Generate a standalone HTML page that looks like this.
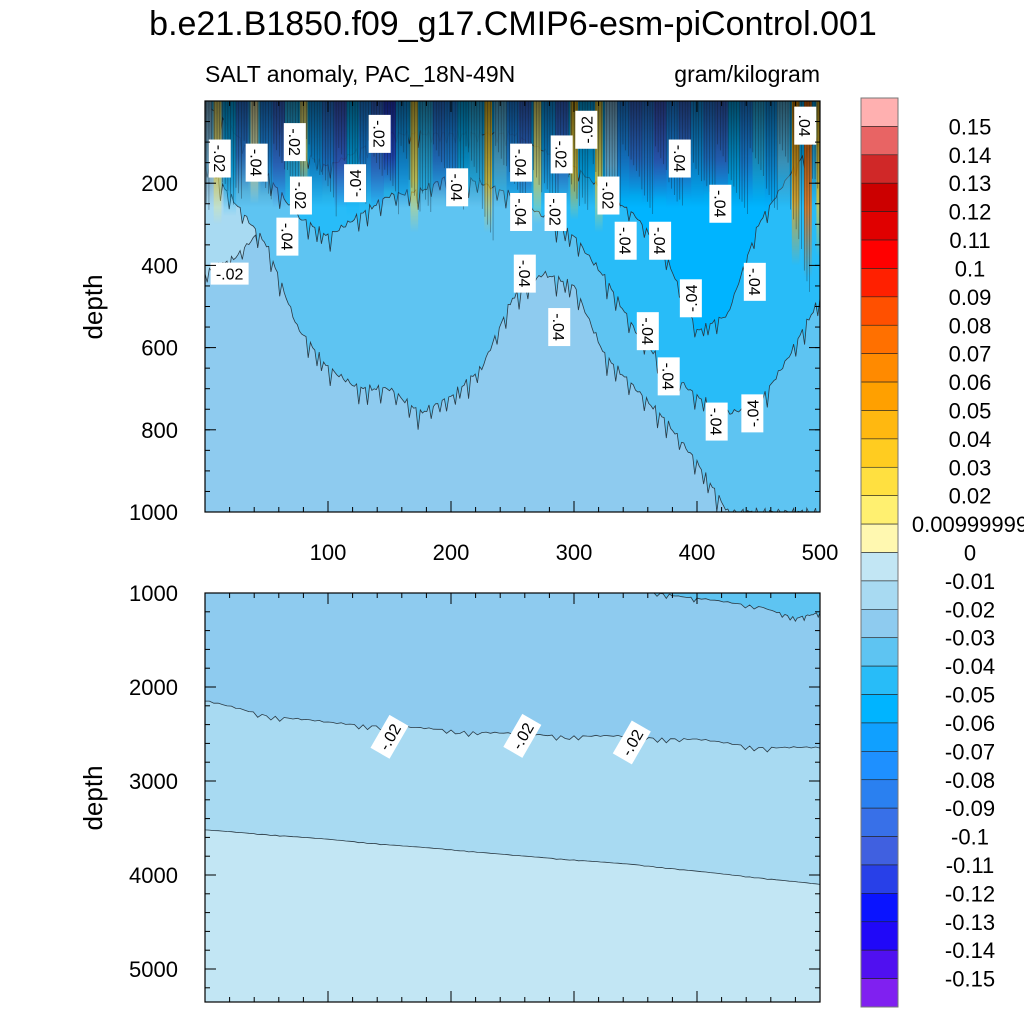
<!DOCTYPE html>
<html><head><meta charset="utf-8"><style>
body{margin:0;background:#fff;width:1024px;height:1024px;overflow:hidden;font-family:"Liberation Sans",sans-serif}
svg text{font-family:"Liberation Sans",sans-serif}
</style></head><body>
<svg id="chart" width="1024" height="1024" xmlns="http://www.w3.org/2000/svg">
<text x="513" y="35" font-size="34" text-anchor="middle">b.e21.B1850.f09_g17.CMIP6-esm-piControl.001</text>
<text x="205" y="82" font-size="23">SALT anomaly, PAC_18N-49N</text>
<text x="820" y="82" font-size="23" text-anchor="end">gram/kilogram</text>
<text transform="translate(102,307) rotate(-90)" font-size="26" text-anchor="middle">depth</text>
<text transform="translate(102,798) rotate(-90)" font-size="26" text-anchor="middle">depth</text>
<g id="top"></g>
<g id="bot"></g>
<g id="cbar"></g>
</svg>
<script>
// ---- data ----
const levels=[0.15,0.14,0.13,0.12,0.11,0.1,0.09,0.08,0.07,0.06,0.05,0.04,0.03,0.02,0.01,0,-0.01,-0.02,-0.03,-0.04,-0.05,-0.06,-0.07,-0.08,-0.09,-0.1,-0.11,-0.12,-0.13,-0.14,-0.15];
const levelLabels=["0.15","0.14","0.13","0.12","0.11","0.1","0.09","0.08","0.07","0.06","0.05","0.04","0.03","0.02","0.00999999","0","-0.01","-0.02","-0.03","-0.04","-0.05","-0.06","-0.07","-0.08","-0.09","-0.1","-0.11","-0.12","-0.13","-0.14","-0.15"];
const colors=["#ffb0b0","#e86464","#d02828","#cc0000","#e00000","#ff0000","#ff2000","#ff5000","#ff7000","#ff8a00","#ffa000","#ffb810","#ffcc20","#ffe040","#fff070","#fff8b0","#c2e6f4","#a8daf2","#8ecbef","#5ec4f2","#28bcf8","#00b4ff","#10a0ff","#1e90ff","#2a80f0","#3870e8","#4060e0","#2840e8","#0a14ff","#2008f8","#5010f0","#8020f0"];
const topX=[0,25,50,75,100,125,150,175,200,225,250,275,300,325,350,375,400,425,450,475,500];
const top02=[420,380,300,250,200,150,150,150,150,300,450,300,200,200,250,300,250,250,250,300,330];
const top03=[150,250,350,550,650,700,700,760,720,650,480,420,450,620,700,780,880,1000,1000,1000,1000];
const top04=[0,80,180,280,330,280,230,220,180,200,230,280,330,430,560,650,720,760,740,620,480];
const top05=[0,0,0,120,160,120,80,80,80,80,80,120,160,220,280,380,560,520,300,180,80];
const surfX=[0,10,20,30,40,50,60,70,80,90,100,110,120,130,140,150,160,170,180,190,200,210,220,230,240,250,260,270,280,290,300,310,320,330,340,350,360,370,380,390,400,410,420,430,440,450,460,470,480,490,500];
const surfVal=[-0.03,0.01,-0.06,-0.09,0.00,-0.08,-0.1,-0.05,0.01,-0.07,-0.09,-0.11,-0.06,-0.08,-0.1,-0.12,-0.07,0.02,-0.05,-0.09,-0.08,-0.06,-0.05,0.03,-0.04,-0.08,-0.1,0.01,-0.07,-0.1,0.03,-0.06,0.02,-0.03,-0.08,-0.1,-0.09,-0.11,-0.08,-0.1,-0.07,-0.09,-0.1,-0.06,-0.08,-0.05,-0.07,-0.04,0.05,0.07,0.03];
const surfDepth=[250,300,280,220,250,230,260,240,220,250,230,260,280,240,260,220,260,320,250,240,260,240,250,320,260,240,250,300,250,240,290,250,320,260,240,230,250,240,260,240,250,230,240,260,250,240,260,250,400,430,380];
const botX=[0,50,100,150,200,250,300,350,400,450,500];
const bot02=[2150,2300,2380,2420,2460,2500,2520,2530,2560,2640,2650];
const bot01=[3520,3570,3620,3680,3730,3790,3840,3890,3960,4030,4100];
const deepX=[365,400,450,480,500];
const deepD=[1000,1060,1140,1270,1210];
const topTicksY=[200,400,600,800,1000];
const botTicksY=[1000,2000,3000,4000,5000];
const ticksX=[100,200,300,400,500];
const topLabels=[[12,140,"-.02",90],[42,150,"-.04",90],[73,100,"-.02",90],[78,230,"-.02",90],[67,330,"-.04",90],[142,80,"-.02",90],[122,200,"-.04",-90],[205,210,"-.04",90],[257,150,"-.04",90],[257,270,"-.04",90],[260,420,"-.04",90],[290,130,"-.02",90],[285,270,"-.02",90],[310,70,"-.02",-90],[328,230,"-.02",90],[342,340,"-.04",90],[370,340,"-.04",90],[386,140,"-.04",90],[419,250,"-.04",90],[288,550,"-.04",90],[360,560,"-.04",90],[377,670,"-.04",90],[395,480,"-.04",-90],[416,780,"-.04",90],[447,440,"-.04",90],[445,760,"-.04",-90],[488,60,".04",90],[20,420,"-.02",0]];
const botLabels=[[150,2530,"-.02",-60],[258,2520,"-.02",-60],[347,2590,"-.02",-60]];
// ---- helpers ----
const NS="http://www.w3.org/2000/svg";
function mk(t,a,p){const e=document.createElementNS(NS,t);for(const k in a)e.setAttribute(k,a[k]);p.appendChild(e);return e;}
const L=205,R=820;
const sx=v=>L+v*(R-L)/500;
const T1=101,B1=512; const sy1=d=>T1+d*(B1-T1)/1000;
const T2=593,B2=1002; const sy2=d=>T2+(d-1000)*94/1000;
function colorOf(v){for(let i=0;i<levels.length;i++){if(v>=levels[i])return colors[i];}return colors[colors.length-1];}
function jag(xs,ds,sy,base,amp){let pts=[];for(let i=0;i<xs.length-1;i++){const n=14;for(let k=0;k<n;k++){const t=k/n;const x=xs[i]+(xs[i+1]-xs[i])*t;const d=ds[i]+(ds[i+1]-ds[i])*t;const s=Math.sin(x*1.37)*Math.sin(x*0.31+1.1);const wig=(s>0.5?s*2.5:s*0.6)*amp*(d>0?1:0);pts.push([sx(x),sy(Math.max(base,d+wig))]);}}pts.push([sx(xs[xs.length-1]),sy(ds[ds.length-1])]);return pts;}
function layer(g,xs,ds,sy,top,fill,name,amp){const pts=jag(xs,ds,sy,top,amp);let d=`M${sx(xs[0])},${sy(top)} `+pts.map(p=>`L${p[0].toFixed(1)},${p[1].toFixed(1)}`).join(" ")+` L${sx(xs[xs.length-1])},${sy(top)} Z`;const e=mk("path",{d:d,fill:fill,stroke:"#2a3a44","stroke-width":0.8},g);return e;}
// ---- top panel ----
const tg=document.getElementById('top');
const cp=mk("clipPath",{id:"c1"},tg);mk("rect",{x:L,y:T1,width:R-L,height:B1-T1},cp);
const tin=mk("g",{"clip-path":"url(#c1)"},tg);
let bg=mk("rect",{x:L,y:T1,width:R-L,height:B1-T1,fill:"#8ecbef"},tin);

layer(tin,topX,top02,sy1,0,"#a8daf2","band-minus-0.02",15);
layer(tin,topX,top03,sy1,0,"#5ec4f2","band-minus-0.04",18);
layer(tin,topX,top04,sy1,0,"#28bcf8","band-minus-0.05",18);
layer(tin,topX,top05,sy1,0,"#00b4ff","band-minus-0.06",14);
const defs=mk("defs",{},tg);
const fade=mk("linearGradient",{id:"fade",x1:0,y1:0,x2:0,y2:1},defs);
mk("stop",{offset:"0","stop-color":"#fff","stop-opacity":1},fade);mk("stop",{offset:"0.6","stop-color":"#fff","stop-opacity":0.8},fade);mk("stop",{offset:"1","stop-color":"#fff","stop-opacity":0},fade);
const mask=mk("mask",{id:"m1",maskContentUnits:"objectBoundingBox"},defs);mk("rect",{x:0,y:0,width:1,height:1,fill:"url(#fade)"},mask);
const dark=mk("linearGradient",{id:"dark",x1:0,y1:0,x2:0,y2:1},defs);
mk("stop",{offset:"0","stop-color":"#000","stop-opacity":0.6},dark);mk("stop",{offset:"0.5","stop-color":"#000","stop-opacity":0.3},dark);mk("stop",{offset:"1","stop-color":"#000","stop-opacity":0},dark);
surfX.forEach((x,i)=>{const w=(sx(10)-sx(0))*(surfVal[i]>=0?0.6:1);const r=mk("rect",{x:sx(x)-w/2,y:T1,width:w+0.5,height:sy1(surfDepth[i])-T1,fill:colorOf(surfVal[i]),mask:"url(#m1)"},tin);

});
let dk=mk("rect",{x:L,y:T1,width:R-L,height:sy1(260)-T1,fill:"url(#dark)"},tin);

for(let x=1;x<500;x+=2.2){const i=Math.min(surfX.length-1,Math.round(x/10));const ln=mk("line",{x1:sx(x),y1:T1,x2:sx(x),y2:sy1(surfDepth[i]*(0.4+((x*13)%7)/10)),stroke:"#101820","stroke-width":0.6,"stroke-opacity":0.55},tin);

}
topLabels.forEach(l=>{const gx=sx(l[0]),gy=sy1(l[1]);const g=mk("g",{transform:`translate(${gx},${gy}) rotate(${l[3]})`},tin);


mk("rect",{x:-19,y:-11,width:38,height:22,fill:"#fff"},g);const t=mk("text",{x:0,y:6,"font-size":16,"text-anchor":"middle"},g);t.textContent=l[2];});
mk("rect",{x:L,y:T1,width:R-L,height:B1-T1,fill:"none",stroke:"#000","stroke-width":1.2},tg);
function axes(g,T,B,sy,ticksY,minorStep,minY,maxY,xlabels){
 ticksY.forEach(v=>{const y=sy(v);mk("line",{x1:L,y1:y,x2:L+11,y2:y,stroke:"#000"},g);mk("line",{x1:R,y1:y,x2:R-11,y2:y,stroke:"#000"},g);const t=mk("text",{x:L-27,y:y+8,"font-size":22,"text-anchor":"end"},g);t.textContent=v;
 
 });
 for(let v=minY;v<=maxY;v+=minorStep){const y=sy(v);if(y<T||y>B)continue;mk("line",{x1:L,y1:y,x2:L+5,y2:y,stroke:"#000"},g);mk("line",{x1:R,y1:y,x2:R-5,y2:y,stroke:"#000"},g);}
 ticksX.forEach(v=>{const x=sx(v);mk("line",{x1:x,y1:B,x2:x,y2:B-11,stroke:"#000"},g);mk("line",{x1:x,y1:T,x2:x,y2:T+11,stroke:"#000"},g);if(xlabels){const t=mk("text",{x:x,y:B+48,"font-size":22,"text-anchor":"middle"},g);t.textContent=v;
 
 }});
 for(let v=20;v<500;v+=20){const x=sx(v);mk("line",{x1:x,y1:B,x2:x,y2:B-5,stroke:"#000"},g);mk("line",{x1:x,y1:T,x2:x,y2:T+5,stroke:"#000"},g);}
}
axes(tg,T1,B1,sy1,topTicksY,50,0,1000,true);
// ---- bottom panel ----
const bgp=document.getElementById('bot');
const cp2=mk("clipPath",{id:"c2"},bgp);mk("rect",{x:L,y:T2,width:R-L,height:B2-T2},cp2);
const bin=mk("g",{"clip-path":"url(#c2)"},bgp);
let b0=mk("rect",{x:L,y:T2,width:R-L,height:B2-T2,fill:"#c2e6f4"},bin);

layer(bin,botX,bot01,sy2,1000,"#a8daf2","band-minus-0.02",3);
layer(bin,botX,bot02,sy2,1000,"#8ecbef","band-minus-0.03",22);
layer(bin,deepX,deepD,sy2,1000,"#5ec4f2","band-minus-0.04",18);
botLabels.forEach(l=>{const g=mk("g",{transform:`translate(${sx(l[0])},${sy2(l[1])}) rotate(${l[3]})`},bin);


mk("rect",{x:-19,y:-11,width:38,height:22,fill:"#fff"},g);const t=mk("text",{x:0,y:6,"font-size":16,"text-anchor":"middle"},g);t.textContent=l[2];});
mk("rect",{x:L,y:T2,width:R-L,height:B2-T2,fill:"none",stroke:"#000","stroke-width":1.2},bgp);
axes(bgp,T2,B2,sy2,botTicksY,200,1000,5400,false);
// ---- colorbar ----
const cb=document.getElementById('cbar');
const cT=98,cB=1007,cL=861,cW=37,h=(cB-cT)/colors.length;
colors.forEach((c,i)=>{const r=mk("rect",{x:cL,y:cT+i*h,width:cW,height:h,fill:c,stroke:"#222","stroke-width":0.6},cb);

});
mk("rect",{x:cL,y:cT,width:cW,height:cB-cT,fill:"none",stroke:"#777","stroke-width":1},cb);
levelLabels.forEach((s,i)=>{const t=mk("text",{x:970,y:cT+(i+1)*h+8,"font-size":22,"text-anchor":"middle"},cb);t.textContent=s;

});
</script>
</body></html>
